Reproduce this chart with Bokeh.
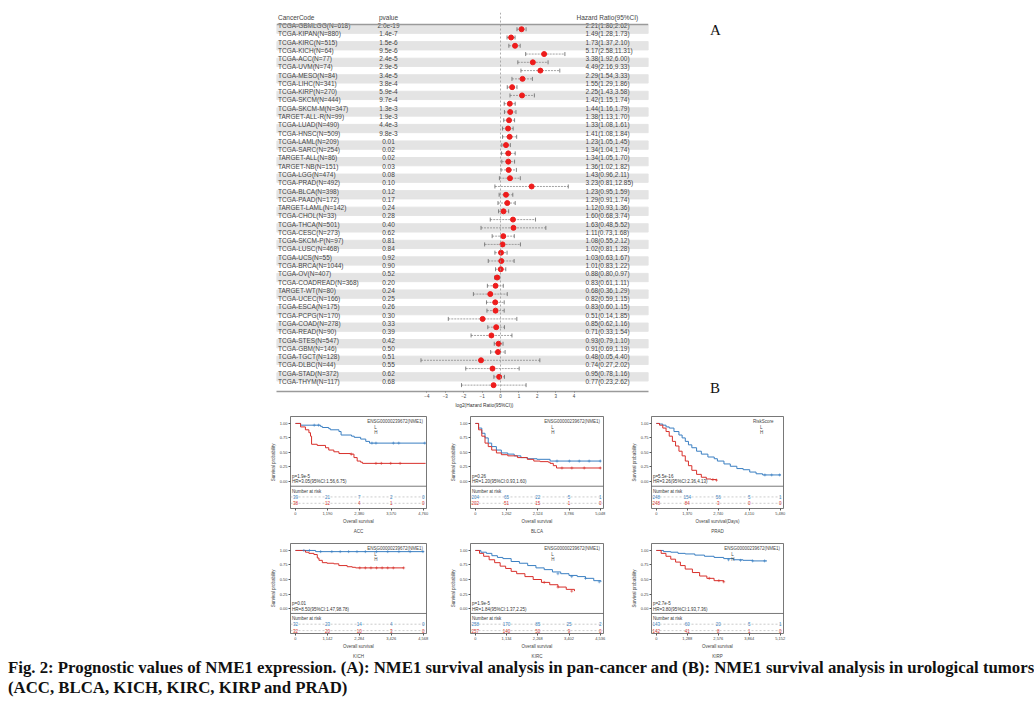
import numpy as np
from bokeh.plotting import figure
from bokeh.models import (Range1d, FixedTicker, Span, Legend, LegendItem, Label, Title,
                          Div, Spacer, NumeralTickFormatter)
from bokeh.layouts import row, column
from bokeh.embed import file_html
from bokeh.resources import INLINE
from bokeh.core.properties import value

FONT = "Liberation Sans"
SERIF = "Liberation Serif"
BLUE = "#3a7fc2"
RED = "#d8302b"

# ---------------- forest plot data (A) ----------------
codes = ["TCGA-GBMLGG", "TCGA-KIPAN", "TCGA-KIRC", "TCGA-KICH", "TCGA-ACC", "TCGA-UVM",
         "TCGA-MESO", "TCGA-LIHC", "TCGA-KIRP", "TCGA-SKCM", "TCGA-SKCM-M", "TARGET-ALL-R",
         "TCGA-LUAD", "TCGA-HNSC", "TCGA-LAML", "TCGA-SARC", "TARGET-ALL", "TARGET-NB",
         "TCGA-LGG", "TCGA-PRAD", "TCGA-BLCA", "TCGA-PAAD", "TARGET-LAML", "TCGA-CHOL",
         "TCGA-THCA", "TCGA-CESC", "TCGA-SKCM-P", "TCGA-LUSC", "TCGA-UCS", "TCGA-BRCA",
         "TCGA-OV", "TCGA-COADREAD", "TARGET-WT", "TCGA-UCEC", "TCGA-ESCA", "TCGA-PCPG",
         "TCGA-COAD", "TCGA-READ", "TCGA-STES", "TCGA-GBM", "TCGA-TGCT", "TCGA-DLBC",
         "TCGA-STAD", "TCGA-THYM"]
sizes = [618, 880, 515, 64, 77, 74, 84, 341, 270, 444, 347, 99, 490, 509, 209, 254, 86, 151,
         474, 492, 398, 172, 142, 33, 501, 273, 97, 468, 55, 1044, 407, 368, 80, 166, 175, 170,
         278, 90, 547, 146, 128, 44, 372, 117]
pvalues = ["2.0e-19", "1.4e-7", "1.5e-6", "9.5e-6", "2.4e-5", "2.9e-5", "3.4e-5", "3.8e-4",
           "5.9e-4", "9.7e-4", "1.3e-3", "1.9e-3", "4.4e-3", "9.8e-3", "0.01", "0.02", "0.02",
           "0.03", "0.08", "0.10", "0.12", "0.17", "0.24", "0.28", "0.40", "0.62", "0.81",
           "0.84", "0.92", "0.90", "0.52", "0.20", "0.24", "0.25", "0.26", "0.30", "0.33",
           "0.39", "0.42", "0.50", "0.51", "0.55", "0.62", "0.68"]
hr = [2.21, 1.49, 1.73, 5.17, 3.38, 4.49, 2.29, 1.55, 2.25, 1.42, 1.44, 1.38, 1.33, 1.41, 1.23,
      1.34, 1.34, 1.36, 1.43, 3.23, 1.23, 1.29, 1.12, 1.60, 1.63, 1.11, 1.08, 1.02, 1.03, 1.01,
      0.88, 0.83, 0.68, 0.82, 0.83, 0.51, 0.85, 0.71, 0.93, 0.91, 0.48, 0.74, 0.95, 0.77]
hr_lo = [1.86, 1.28, 1.37, 2.58, 1.92, 2.16, 1.54, 1.29, 1.43, 1.15, 1.16, 1.13, 1.08, 1.08, 1.05,
         1.04, 1.05, 1.02, 0.96, 0.81, 0.95, 0.91, 0.93, 0.68, 0.48, 0.73, 0.55, 0.81, 0.63, 0.83,
         0.80, 0.61, 0.36, 0.59, 0.60, 0.14, 0.62, 0.33, 0.79, 0.69, 0.05, 0.27, 0.78, 0.23]
hr_hi = [2.62, 1.73, 2.10, 11.31, 6.00, 9.33, 3.33, 1.86, 3.58, 1.74, 1.79, 1.70, 1.61, 1.84, 1.45,
         1.74, 1.70, 1.82, 2.11, 12.85, 1.59, 1.74, 1.36, 3.74, 5.52, 1.68, 2.12, 1.28, 1.67, 1.22,
         0.97, 1.11, 1.29, 1.15, 1.15, 1.85, 1.16, 1.54, 1.10, 1.19, 4.40, 2.02, 1.16, 2.62]
forest_ticks = [-4, -3, -2, -1, 0, 1, 2, 3, 4]

# ---------------- Kaplan-Meier data (B) ----------------
acc_ticks = [0, 1190, 2380, 3570, 4760]
acc_L_t = [0, 190, 930, 1000, 1240, 1300, 1620, 1700, 2090, 2190, 2430, 2620, 2760, 4850]
acc_L_s = [1.0, 0.97, 0.95, 0.93, 0.91, 0.89, 0.86, 0.80, 0.78, 0.76, 0.73, 0.69, 0.66, 0.66]
acc_H_t = [0, 190, 370, 500, 560, 600, 810, 1120, 1240, 1430, 1620, 2050, 2180, 2300, 2430, 2500, 4850]
acc_H_s = [1.0, 0.94, 0.89, 0.84, 0.78, 0.64, 0.62, 0.58, 0.54, 0.51, 0.48, 0.47, 0.41, 0.35, 0.33, 0.31, 0.31]
acc_Lc_t = [700, 860, 2850, 3000, 3650, 3850, 4820]
acc_Lc_s = [0.97, 0.97, 0.66, 0.66, 0.66, 0.66, 0.66]
acc_Hc_t = [2080, 3000, 3200, 3550, 3900]
acc_Hc_s = [0.47, 0.31, 0.31, 0.31, 0.31]
acc_nL = [39, 21, 7, 2, 0]
acc_nH = [38, 12, 4, 1, 0]

blca_ticks = [0, 1262, 2524, 3786, 5048]
blca_L_t = [0, 130, 260, 390, 520, 660, 850, 1050, 1310, 1570, 1840, 2100, 2490, 3020, 5070]
blca_L_s = [1.0, 0.92, 0.83, 0.75, 0.66, 0.60, 0.54, 0.49, 0.47, 0.44, 0.41, 0.39, 0.38, 0.35, 0.35]
blca_H_t = [0, 130, 260, 390, 520, 660, 850, 1050, 1310, 1700, 2100, 2360, 2620, 2950, 3020, 3150, 3280, 5070]
blca_H_s = [1.0, 0.89, 0.78, 0.66, 0.60, 0.54, 0.49, 0.46, 0.44, 0.41, 0.38, 0.35, 0.34, 0.33, 0.31, 0.27, 0.23, 0.23]
blca_Lc_t = [3300, 3800, 4200, 4600, 5050]
blca_Lc_s = [0.35, 0.35, 0.35, 0.35, 0.35]
blca_Hc_t = [3500, 3900, 4400, 5050]
blca_Hc_s = [0.23, 0.23, 0.23, 0.23]
blca_nL = [204, 65, 22, 5, 1]
blca_nH = [202, 51, 15, 1, 0]

prad_ticks = [0, 1370, 2740, 4110, 5480]
prad_L_t = [0, 140, 285, 430, 570, 780, 1000, 1140, 1280, 1420, 1570, 1780, 1990, 2280, 2560, 2700,
            2990, 3270, 3560, 3840, 4130, 4410, 4700, 5510]
prad_L_s = [1.0, 0.99, 0.97, 0.94, 0.92, 0.86, 0.80, 0.75, 0.69, 0.63, 0.58, 0.52, 0.47, 0.42, 0.39,
            0.35, 0.30, 0.26, 0.22, 0.20, 0.16, 0.13, 0.11, 0.11]
prad_H_t = [0, 140, 285, 430, 570, 710, 850, 1000, 1140, 1280, 1420, 1570, 1780, 1990, 2210, 2420, 2660]
prad_H_s = [1.0, 0.97, 0.92, 0.86, 0.78, 0.69, 0.61, 0.52, 0.44, 0.35, 0.27, 0.19, 0.12, 0.07, 0.04, 0.03, 0.02]
prad_Lc_t = [4800, 5100, 5450]
prad_Lc_s = [0.11, 0.11, 0.11]
prad_Hc_t = [2500, 2660]
prad_Hc_s = [0.03, 0.02]
prad_nL = [248, 154, 56, 5, 1]
prad_nH = [248, 84, 3, 0, 0]

kich_ticks = [0, 1142, 2284, 3426, 4568]
kich_L_t = [0, 720, 4590]
kich_L_s = [1.0, 0.98, 0.98]
kich_H_t = [0, 360, 480, 660, 780, 840, 960, 1130, 1370, 1550, 1850, 2030, 2150, 3880]
kich_H_s = [1.0, 0.97, 0.95, 0.93, 0.87, 0.83, 0.79, 0.78, 0.77, 0.74, 0.72, 0.71, 0.70, 0.70]
kich_Lc_t = [300, 500, 900, 1300, 1600, 1900, 2200, 2500, 2900, 3300, 3700, 4100, 4560]
kich_Lc_s = [1.0, 1.0, 0.98, 0.98, 0.98, 0.98, 0.98, 0.98, 0.98, 0.98, 0.98, 0.98, 0.98]
kich_Hc_t = [2300, 2500, 2700, 2900, 3100, 3300, 3500, 3870]
kich_Hc_s = [0.70, 0.70, 0.70, 0.70, 0.70, 0.70, 0.70, 0.70]
kich_nL = [32, 23, 14, 4, 0]
kich_nH = [32, 20, 10, 3, 0]

kirc_ticks = [0, 1134, 2268, 3402, 4536]
kirc_L_t = [0, 200, 400, 600, 800, 1000, 1300, 1600, 1900, 2200, 2500, 2800, 3100, 3400, 3700, 4000, 4300, 4560]
kirc_L_s = [1.0, 0.97, 0.95, 0.91, 0.88, 0.86, 0.81, 0.78, 0.74, 0.70, 0.67, 0.63, 0.60, 0.57, 0.55, 0.52, 0.48, 0.46]
kirc_H_t = [0, 150, 300, 500, 700, 900, 1100, 1300, 1500, 1800, 2100, 2400, 2700, 3000, 3300, 3600]
kirc_H_s = [1.0, 0.95, 0.90, 0.84, 0.79, 0.73, 0.69, 0.64, 0.60, 0.55, 0.50, 0.45, 0.41, 0.37, 0.33, 0.30]
kirc_Lc_t = [3000, 3500, 4000, 4500]
kirc_Lc_s = [0.60, 0.55, 0.52, 0.46]
kirc_Hc_t = [2500, 3000, 3500]
kirc_Hc_s = [0.45, 0.37, 0.30]
kirc_nL = [258, 170, 85, 25, 2]
kirc_nH = [257, 140, 50, 9, 0]

kirp_ticks = [0, 1288, 2576, 3864, 5152]
kirp_L_t = [0, 300, 600, 900, 1200, 1600, 2000, 2400, 2800, 3200, 3600, 4000, 4600]
kirp_L_s = [1.0, 0.98, 0.97, 0.95, 0.94, 0.92, 0.90, 0.88, 0.86, 0.84, 0.83, 0.82, 0.82]
kirp_H_t = [0, 200, 400, 600, 800, 1000, 1200, 1500, 1800, 2100, 2400, 2800]
kirp_H_s = [1.0, 0.95, 0.90, 0.85, 0.80, 0.74, 0.68, 0.62, 0.56, 0.52, 0.48, 0.46]
kirp_Lc_t = [3000, 3500, 4000, 4500]
kirp_Lc_s = [0.84, 0.83, 0.82, 0.82]
kirp_Hc_t = [2200, 2600, 2800]
kirp_Hc_s = [0.52, 0.48, 0.46]
kirp_nL = [143, 60, 20, 5, 1]
kirp_nH = [142, 41, 8, 1, 0]

caption_1 = ("Fig. 2: Prognostic values of NME1 expression. (A): NME1 survival analysis in pan-cancer "
             "and (B): NME1 survival analysis in urological tumors")
caption_2 = "(ACC, BLCA, KICH, KIRC, KIRP and PRAD)"

# ---------------- forest figure ----------------
PX = 18.4                      # pixels per log2 unit
x0 = (276 - 500) / PX
x1 = (648 - 500) / PX
rows = np.arange(1, len(codes) + 1)
OFF = 0.45
FS = "6.5px"
labels = [f"{c}(N={k})" for c, k in zip(codes, sizes)]
hr_txt = [f"{a:.2f}({b:.2f},{c:.2f})" for a, b, c in zip(hr, hr_lo, hr_hi)]
lhr, llo, lhi = np.log2(hr), np.log2(hr_lo), np.log2(hr_hi)

fp = figure(width=432, height=405, x_range=Range1d(x0, x1), y_range=Range1d(45.22, -0.57),
            min_border_left=8, min_border_right=52, min_border_top=4, min_border_bottom=22,
            output_backend="svg", toolbar_location=None)
fp.grid.visible = False
fp.yaxis.visible = False
fp.outline_line_color = None
odd = rows[rows % 2 == 1]
fp.hbar(y=odd + OFF, height=1, left=x0, right=x1, color="#e4e4e4")
fp.add_layout(Span(location=0.87, dimension="width", line_color="#9a9a9a", line_width=1.5))
fp.add_layout(Span(location=0, dimension="height", line_color="#999999", line_width=0.8, line_dash="2 2"))
tcol = "#444444"
fp.text(x=x0 + 0.08, y=rows, text=labels, text_font=value(FONT), text_font_size=FS,
        text_baseline="middle", text_color=tcol)
fp.text(x=(388 - 500) / PX, y=rows, text=pvalues, text_font=value(FONT), text_font_size=FS,
        text_baseline="middle", text_align="center", text_color=tcol)
fp.text(x=(585 - 500) / PX, y=rows, text=hr_txt, text_font=value(FONT), text_font_size=FS,
        text_baseline="middle", text_color=tcol)
fp.text(x=[x0 + 0.08], y=[0], text=["CancerCode"], text_font=value(FONT), text_font_size=FS,
        text_baseline="middle", text_color=tcol)
fp.text(x=[(388 - 500) / PX], y=[0], text=["pvalue"], text_font=value(FONT), text_font_size=FS,
        text_baseline="middle", text_align="center", text_color=tcol)
fp.text(x=[(576 - 500) / PX], y=[0], text=["Hazard Ratio(95%CI)"], text_font=value(FONT),
        text_font_size=FS, text_baseline="middle", text_color=tcol)
fp.segment(x0=llo, y0=rows + OFF, x1=lhi, y1=rows + OFF, line_color="#8a8a8a", line_width=0.8,
           line_dash="2 1")
fp.scatter(x=np.r_[llo, lhi], y=np.r_[rows, rows] + OFF, marker="dash", angle=np.pi / 2, size=4,
           line_color="#666666", line_width=0.8)
fp.scatter(x=lhr, y=rows + OFF, size=5, color="#ee1c1c")
ax = fp.xaxis[0]
ax.ticker = FixedTicker(ticks=forest_ticks)
ax.axis_line_color = "#9a9a9a"
ax.axis_line_width = 1.5
ax.major_tick_line_color = "#777777"
ax.major_tick_in = 0
ax.major_tick_out = 1
ax.minor_tick_line_color = None
ax.major_label_text_font = FONT
ax.major_label_text_font_size = "4.5px"
ax.major_label_standoff = 1
fp.add_layout(Title(text="log2(Hazard Ratio(95%CI))", align="left", offset=179, standoff=0,
                    text_font=FONT, text_font_size="4.8px", text_font_style="normal",
                    text_color="#333333"), "below")


# ---------------- KM panels ----------------
def km_panel(ticks, Lt, Ls, Ht, Hs, Lct, Lcs, Hct, Hcs, nL, nH, leg_title, ptxt, hrtxt,
             xlabel, name, w, bl, br, h, bt, bb, ystart):
    T = ticks[-1]
    xs, xe = -0.039 * T, 1.026 * T
    p = figure(width=w, height=h, x_range=Range1d(xs, xe), y_range=Range1d(ystart, 1.12),
               min_border_left=bl, min_border_right=br, min_border_top=bt, min_border_bottom=bb,
               output_backend="svg", toolbar_location=None)
    p.grid.visible = False
    p.outline_line_color = "#555555"
    p.outline_line_width = 0.8
    p.step(Lt, Ls, mode="after", line_color=BLUE, line_width=1)
    p.step(Ht, Hs, mode="after", line_color=RED, line_width=1)
    p.scatter(Lct, Lcs, marker="cross", size=3, line_color=BLUE, line_width=0.6)
    p.scatter(Hct, Hcs, marker="cross", size=3, line_color=RED, line_width=0.6)
    # risk table
    yN, yL, yH = -0.17, -0.27, -0.38
    p.add_layout(Span(location=-0.085, dimension="width", line_color="#555555", line_width=0.8))
    p.add_layout(Span(location=yL, dimension="width", line_color="#aaaaaa", line_width=0.6, line_dash="2 2"))
    p.add_layout(Span(location=yH, dimension="width", line_color="#aaaaaa", line_width=0.6, line_dash="2 2"))
    p.text(x=[xs + 0.012 * T], y=[yN], text=["Number at risk"], text_font=value(FONT),
           text_font_size="4.5px", text_baseline="middle", text_color="#333333")
    p.text(x=ticks, y=yL, text=[str(v) for v in nL], text_font=value(FONT), text_font_size="4.5px",
           text_baseline="middle", text_align="center", text_color=BLUE)
    p.text(x=ticks, y=yH, text=[str(v) for v in nH], text_font=value(FONT), text_font_size="4.5px",
           text_baseline="middle", text_align="center", text_color=RED)
    p.add_layout(Label(x=xs - 0.005 * T, y=yL, text="L", text_font=FONT, text_font_size="4.5px",
                       text_baseline="middle", text_align="right", text_color=BLUE))
    p.add_layout(Label(x=xs - 0.005 * T, y=yH, text="H", text_font=FONT, text_font_size="4.5px",
                       text_baseline="middle", text_align="right", text_color=RED))
    # p / HR text
    p.text(x=[xs + 0.012 * T], y=[0.09], text=[ptxt], text_font=value(FONT), text_font_size="4.5px",
           text_baseline="middle", text_color="#333333")
    p.text(x=[xs + 0.012 * T], y=[-0.01], text=[hrtxt], text_font=value(FONT), text_font_size="4.5px",
           text_baseline="middle", text_color="#333333")
    # legend
    rL = p.scatter(x=[], y=[], marker="square", size=5, color=BLUE)
    rH = p.scatter(x=[], y=[], marker="square", size=5, color=RED)
    leg = Legend(items=[LegendItem(label="L", renderers=[rL]), LegendItem(label="H", renderers=[rH])],
                 location="top_right", title=leg_title)
    leg.title_text_font = FONT
    leg.title_text_font_size = "4.5px"
    leg.title_text_font_style = "normal"
    leg.title_standoff = 1
    leg.label_text_font = FONT
    leg.label_text_font_size = "4.5px"
    leg.label_height = 5
    leg.label_standoff = 2
    leg.glyph_height = 5
    leg.glyph_width = 5
    leg.spacing = 0
    leg.padding = 1
    leg.margin = 3
    leg.border_line_color = None
    leg.background_fill_alpha = 0
    p.add_layout(leg)
    # axes
    xa = p.xaxis[0]
    xa.ticker = FixedTicker(ticks=ticks)
    xa.formatter = NumeralTickFormatter(format="0,0")
    ya = p.yaxis[0]
    ya.ticker = FixedTicker(ticks=[0, 0.25, 0.5, 0.75, 1.0])
    ya.formatter = NumeralTickFormatter(format="0.00")
    for a in (xa, ya):
        a.major_label_text_font = FONT
        a.major_label_text_font_size = "4px"
        a.major_label_standoff = 1
        a.major_tick_in = 0
        a.major_tick_out = 2
        a.minor_tick_line_color = None
        a.axis_line_color = None
        a.major_tick_line_color = "#555555"
        a.axis_label_text_font = FONT
        a.axis_label_text_font_size = "4.5px"
        a.axis_label_text_font_style = "normal"
        a.axis_label_standoff = 1
    xa.axis_label = xlabel
    ya.axis_label = "Survival probability"
    p.add_layout(Title(text=name, align="center", text_font=FONT, text_font_size="4.5px",
                       text_font_style="normal", standoff=0), "below")
    return p


NME = "ENSG00000239672(NME1)"
p1 = km_panel(acc_ticks, acc_L_t, acc_L_s, acc_H_t, acc_H_s, acc_Lc_t, acc_Lc_s, acc_Hc_t, acc_Hc_s,
              acc_nL, acc_nH, NME, "p=1.9e-5", "HR=3.05(95%CI:1.56,6.75)", "Overall survival", "ACC",
              178, 28, 14, 120, 3, 21, -0.47)
p2 = km_panel(blca_ticks, blca_L_t, blca_L_s, blca_H_t, blca_H_s, blca_Lc_t, blca_Lc_s, blca_Hc_t,
              blca_Hc_s, blca_nL, blca_nH, NME, "p=0.26", "HR=1.20(95%CI:0.93,1.60)",
              "Overall survival", "BLCA", 175, 30, 12, 120, 3, 21, -0.47)
p3 = km_panel(prad_ticks, prad_L_t, prad_L_s, prad_H_t, prad_H_s, prad_Lc_t, prad_Lc_s, prad_Hc_t,
              prad_Hc_s, prad_nL, prad_nH, "RiskScore", "p=5.5e-16", "HR=3.26(95%CI:2.36,4.13)",
              "Overall survival(Days)", "PRAD", 185, 36, 17, 120, 3, 21, -0.47)
p4 = km_panel(kich_ticks, kich_L_t, kich_L_s, kich_H_t, kich_H_s, kich_Lc_t, kich_Lc_s, kich_Hc_t,
              kich_Hc_s, kich_nL, kich_nH, NME, "p=0.01", "HR=8.50(95%CI:1.47,98.78)",
              "Overall survival", "KICH", 178, 28, 14, 125, 10, 21, -0.43)
p5 = km_panel(kirc_ticks, kirc_L_t, kirc_L_s, kirc_H_t, kirc_H_s, kirc_Lc_t, kirc_Lc_s, kirc_Hc_t,
              kirc_Hc_s, kirc_nL, kirc_nH, NME, "p=1.9e-5", "HR=1.84(95%CI:1.37,2.25)",
              "Overall survival", "KIRC", 175, 30, 12, 125, 10, 21, -0.43)
p6 = km_panel(kirp_ticks, kirp_L_t, kirp_L_s, kirp_H_t, kirp_H_s, kirp_Lc_t, kirp_Lc_s, kirp_Hc_t,
              kirp_Hc_s, kirp_nL, kirp_nH, NME, "p=2.7e-5", "HR=3.80(95%CI:1.93,7.36)",
              "Overall survival", "KIRP", 185, 36, 17, 125, 10, 21, -0.43)

# ---------------- layout ----------------
lab_style = {"font-family": SERIF, "font-size": "15px", "line-height": "16px", "color": "#111111"}
divA = Div(text="A", width=30, height=16, margin=0, styles=lab_style)
divB = Div(text="B", width=30, height=16, margin=0, styles=lab_style)
ab_col = column(Spacer(width=30, height=14, margin=0), divA, Spacer(width=30, height=342, margin=0), divB)
top = row(Spacer(width=268, height=405, margin=0), fp, Spacer(width=10, height=405, margin=0), ab_col)
km1 = row(Spacer(width=262, height=120, margin=0), p1, p2, p3)
km2 = row(Spacer(width=262, height=125, margin=0), p4, p5, p6)
cap = Div(text=caption_1 + "<br>" + caption_2, width=1020, height=40, margin=0,
          styles={"font-family": SERIF, "font-size": "16.8px", "font-weight": "bold",
                  "line-height": "20px", "white-space": "nowrap", "color": "#111111"})
cap_row = row(Spacer(width=8, height=40, margin=0), cap)
layout = column(Spacer(width=1020, height=8, margin=0), top, km1, km2, cap_row)

open("out.html", "w").write(file_html(layout, INLINE))
